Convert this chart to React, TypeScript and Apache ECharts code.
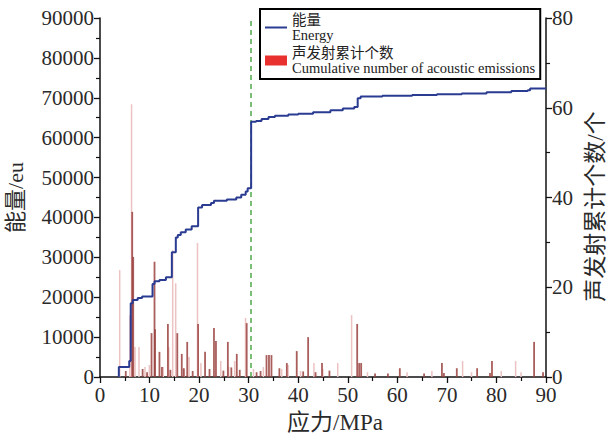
import React, { useEffect, useRef } from "react";
import * as echarts from "echarts";

// Cumulative step line (left axis, energy units): [stress, value from that stress on]
const lineStress = [3.8, 3.8, 5.9, 6.2, 6.6, 7.6, 8.5, 10.6, 11.0, 12.0, 13.3, 14.5, 15.3, 15.7, 16.3, 17.3, 18.5, 19.8, 20.6, 22.4, 23.0, 25.6, 27.5, 28.5, 29.4, 29.8, 30.5, 31.5, 32.6, 34.0, 35.3, 38.0, 40.0, 43.0, 46.5, 49.0, 51.3, 52.0, 52.6, 57.0, 63.0, 68.0, 73.0, 78.0, 83.0, 86.3, 86.8, 90.0];
const lineValue = [0, 2500, 4000, 18500, 19300, 19800, 20200, 23300, 24000, 24300, 25000, 31300, 35000, 35600, 36300, 37000, 37800, 42500, 43100, 43600, 44200, 44500, 45000, 45700, 46500, 47300, 64000, 64200, 64700, 65200, 65500, 65800, 66000, 66400, 66900, 67300, 67700, 69900, 70300, 70500, 70700, 70900, 71100, 71400, 71700, 71900, 72300, 72300];

// Dark (strong) acoustic emission bars
const darkStress = [6.5, 6.7, 10.4, 11.0, 11.1, 12.0, 13.7, 15.6, 16.5, 17.6, 19.8, 21.2, 23.0, 23.4, 25.8, 27.6, 29.6, 33.6, 34.1, 34.6, 37.7, 39.7, 42.0, 44.8, 51.9, 52.3, 52.7, 60.5, 69.0, 72.0, 76.1, 79.1, 87.6, 5.2, 8.6, 9.5, 12.5, 14.2, 16.9, 18.7, 22.1, 24.9, 26.5, 28.2, 31.6, 32.4, 36.2, 41.0, 43.5, 46.3, 55.5, 58.1, 65.4, 69.4, 78.7, 89.4];
const darkEnergy = [41400, 30100, 11000, 28900, 12000, 6300, 13300, 11000, 5800, 8800, 13300, 6300, 12300, 9000, 8800, 5800, 13500, 5500, 5500, 5500, 3500, 6500, 10000, 3500, 13300, 3500, 3500, 2200, 3500, 2200, 2200, 4000, 8800, 1500, 2000, 1200, 2500, 1800, 2200, 1500, 2000, 1600, 2400, 1800, 1200, 1500, 2200, 1400, 1200, 1600, 900, 900, 900, 1000, 1000, 1200];

// Light (faint) bars
const lightStress = [4.0, 6.05, 6.4, 7.1, 7.9, 12.8, 13.9, 14.7, 15.3, 18.0, 19.7, 24.4, 27.2, 29.4, 36.7, 38.0, 43.2, 48.0, 50.8, 73.2, 83.9, 9.1, 10.0, 17.0, 20.4, 26.0, 31.0, 33.0, 40.5, 45.0, 54.0, 62.0, 67.0, 75.0, 81.0, 85.0];
const lightEnergy = [26800, 15500, 68400, 7500, 7500, 2500, 7500, 31800, 23500, 5000, 33600, 4000, 4000, 14800, 2000, 3000, 3500, 3500, 15500, 4000, 4000, 2500, 3000, 2000, 3500, 2500, 2000, 2500, 1500, 2000, 1200, 1200, 1500, 1200, 1500, 1200];

const transitionStress = 30.5;

const xTicks = { min: 0, max: 90, interval: 10 };
const yLeft = { min: 0, max: 90000, interval: 10000 };
const yRight = { min: 0, max: 80, interval: 20 };

const SERIF = "'Liberation Serif', 'Times New Roman', 'Noto Sans CJK SC', serif";

export default function App() {
  const ref = useRef<HTMLDivElement>(null);
  useEffect(() => {
    if (!ref.current) return;
    const chart = echarts.init(ref.current, undefined, { renderer: "svg" });
    const axisLine = { show: true, lineStyle: { color: "#111", width: 1.5 } };
    const axisTick = { show: true, inside: false, length: 6, lineStyle: { color: "#111", width: 1.3 } };
    const minorTick = { show: true, splitNumber: 2, length: 4, lineStyle: { color: "#111", width: 1.2 } };
    const axisLabel = {
      color: "#2a2a2a",
      fontFamily: SERIF,
      fontSize: 21,
      formatter: (v: number) => String(v),
    };
    chart.setOption({
      animation: false,
      backgroundColor: "#fff",
      textStyle: { fontFamily: SERIF },
      grid: { left: 100, right: 63, top: 18, bottom: 58, outerBoundsMode: "none", containLabel: false },
      legend: {
        left: 260,
        top: 9,
        orient: "vertical",
        padding: [3, 5, 3, 5],
        borderColor: "#000",
        borderWidth: 2,
        itemWidth: 22,
        itemHeight: 10,
        itemGap: 2,
        textStyle: { fontFamily: SERIF, fontSize: 14.5, lineHeight: 15.5, color: "#222" },
        data: [
          { name: "能量", icon: "path://M0,0 L22,0 L22,2 L0,2 Z", itemStyle: { color: "#2a3b92" } },
          { name: "声发射累计个数", icon: "rect", itemStyle: { color: "#e8302f" } },
        ],
        formatter: (name: string) =>
          name === "能量" ? "能量\nEnergy" : "声发射累计个数\nCumulative number of acoustic emissions",
      },
      xAxis: {
        type: "value",
        ...xTicks,
        name: "应力/MPa",
        nameLocation: "middle",
        nameGap: 34,
        nameTextStyle: { fontFamily: SERIF, fontSize: 23, color: "#2a2a2a", padding: [0, 0, 0, 24] },
        axisLine,
        axisTick,
        minorTick,
        axisLabel: { ...axisLabel, margin: 7 },
        splitLine: { show: false },
      },
      yAxis: [
        {
          type: "value",
          ...yLeft,
          position: "left",
          name: "能量/eu",
          nameLocation: "middle",
          nameGap: 74,
          nameRotate: 90,
          nameTextStyle: { fontFamily: SERIF, fontSize: 22, color: "#2a2a2a" },
          axisLine,
          axisTick,
          minorTick,
          axisLabel: { ...axisLabel, margin: 6 },
          splitLine: { show: false },
        },
        {
          type: "value",
          ...yRight,
          position: "right",
          name: "声发射累计个数/个",
          nameLocation: "middle",
          nameGap: 36,
          nameRotate: 90,
          nameTextStyle: { fontFamily: SERIF, fontSize: 23, color: "#2a2a2a", padding: [0, 18, 0, 0] },
          axisLine,
          axisTick,
          minorTick,
          axisLabel: { ...axisLabel, margin: 6 },
          splitLine: { show: false },
        },
      ],
      series: [
        {
          name: "声发射累计个数",
          type: "bar",
          barWidth: 1.5,
          barGap: "-100%",
          itemStyle: { color: "#ecc2c2" },
          data: lightStress.map((x, i) => [x, lightEnergy[i]]),
          z: 1,
        },
        {
          name: "声发射累计个数",
          type: "bar",
          barWidth: 1.8,
          barGap: "-100%",
          itemStyle: { color: "#9a4240", opacity: 0.85 },
          data: darkStress.map((x, i) => [x, darkEnergy[i]]),
          z: 2,
        },
        {
          name: "能量",
          type: "line",
          step: "end",
          symbol: "none",
          lineStyle: { color: "#2a3b92", width: 2 },
          itemStyle: { color: "#2a3b92" },
          data: lineStress.map((x, i) => [x, lineValue[i]]),
          z: 5,
          markLine: {
            silent: true,
            symbol: "none",
            label: { show: false },
            lineStyle: { color: "#4fa84a", type: [5, 4], width: 1.5 },
            data: [{ xAxis: transitionStress }],
          },
        },
      ],
    });
    return () => chart.dispose();
  }, []);
  return (
    <div
      ref={ref}
      style={{ position: "fixed", left: 0, top: 0, width: 609, height: 435, background: "#fff" }}
    />
  );
}
